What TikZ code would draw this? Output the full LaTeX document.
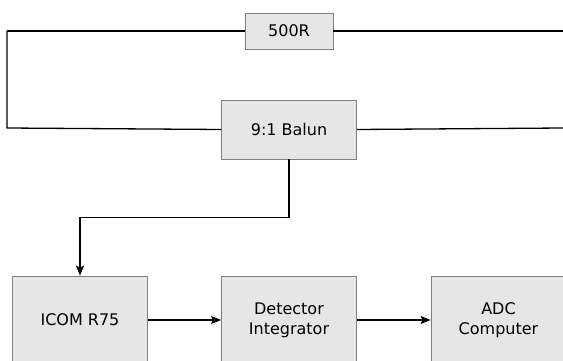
\documentclass[tikz,border=0pt]{standalone}
\usepackage{fontspec}
\setmainfont{DejaVu Sans}
\usetikzlibrary{positioning, arrows.meta, calc}
\definecolor{boxfill}{HTML}{E6E6E6}
\definecolor{boxline}{HTML}{808080}

\begin{document}
\begin{tikzpicture}[x=1pt, y=-1pt,
    every node/.style={font=\fontsize{16}{20}\selectfont},
    block/.style={draw=boxline, fill=boxfill, line width=0.8pt, align=center,
      inner sep=0pt, minimum width=135pt},
    wire/.style={line width=1.3pt},
    sig/.style={wire, -{Stealth[length=10pt, width=8pt, inset=2pt]}}]
    % Moldura
    \useasboundingbox (0,0) rectangle (563,361);
    \clip (0,0) rectangle (563,361);
    % Antena / laço
    \coordinate (tl) at (7,31);
    \coordinate (bl) at (7,128);
    \coordinate (tr) at (563,31);
    \coordinate (br) at (563,128);
    \node[block, minimum width=88pt, minimum height=36pt] (res) at (289,31) {500R};
    \node[block, minimum height=59pt] (balun) at (289,129.5) {9:1 Balun};
    \draw[wire] (tl) -- (res.west);
    \draw[wire] (res.east) -- (tr);
    \draw[wire] (tl) -- (bl) -- (balun.west);
    \draw[wire] (balun.east) -- (br);
    % Cadeia de recepção
    \node[block, minimum height=88pt] (icom) at (80,320) {ICOM R75};
    \node[block, minimum height=88pt] (det) at (289,320) {Detector\\Integrator};
    \node[block, minimum height=88pt] (adc) at (498.5,320) {ADC\\Computer};
    \draw[sig] (balun.south) -- ++(0,58) -| (icom.north);
    \draw[sig] (icom) -- (det);
    \draw[sig] (det) -- (adc);
  \end{tikzpicture}
\end{document}
